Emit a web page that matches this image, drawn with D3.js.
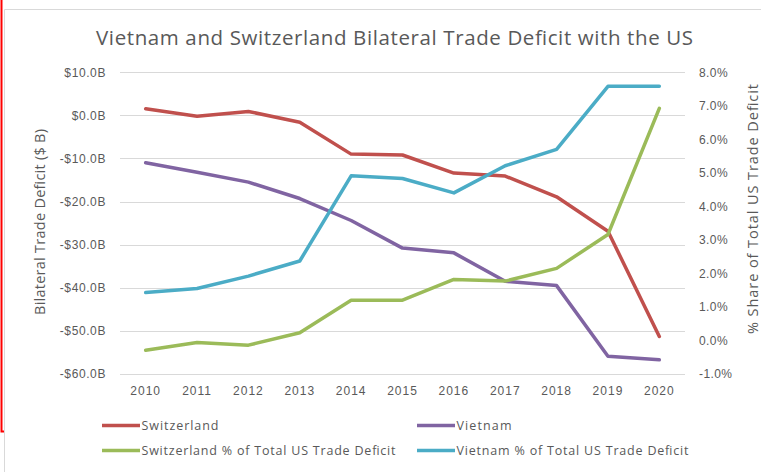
<!DOCTYPE html>
<html>
<head>
<meta charset="utf-8">
<script src="https://cdn.jsdelivr.net/npm/d3@7/dist/d3.min.js"></script>
<style>
  html, body { margin: 0; padding: 0; background: #ffffff; }
  svg { display: block; font-family: "Open Sans", "Liberation Sans", sans-serif; }
</style>
</head>
<body>
<svg id="chart" width="761" height="472"></svg>
<script>
// Years on the category axis
const years = ["2010","2011","2012","2013","2014","2015","2016","2017","2018","2019","2020"];

// Bilateral trade balance with the US, billions of dollars (left axis)
const switzerland = [1.5, -0.2, 0.9, -1.6, -9.0, -9.2, -13.4, -14.1, -18.9, -26.9, -51.3];
const vietnam = [-11.0, -13.2, -15.5, -19.3, -24.4, -30.8, -31.9, -38.5, -39.5, -55.9, -56.7];

// Share of the total US trade deficit, percent (right axis)
const switzerlandPct = [-0.29, -0.06, -0.14, 0.23, 1.20, 1.20, 1.82, 1.77, 2.15, 3.16, 6.92];
const vietnamPct = [1.43, 1.55, 1.92, 2.37, 4.91, 4.83, 4.40, 5.21, 5.70, 7.58, 7.58];

// Axis ticks
const leftTicks = [10, 0, -10, -20, -30, -40, -50, -60];
const rightTicks = [8, 7, 6, 5, 4, 3, 2, 1, 0, -1];

const seriesList = [
  { name: "Switzerland", values: switzerland, axis: "left", color: "#c0504d" },
  { name: "Vietnam", values: vietnam, axis: "left", color: "#8064a2" },
  { name: "Switzerland % of Total US Trade Deficit", values: switzerlandPct, axis: "right", color: "#9bbb59" },
  { name: "Vietnam % of Total US Trade Deficit", values: vietnamPct, axis: "right", color: "#4bacc6" }
];

const svg = d3.select("#chart");
const textColor = "#595959";
const plot = { left: 120, right: 685, top: 72.2, bottom: 374 };

// Outer frame
svg.append("path").attr("d", "M4.5,472 V9.5 H761")
  .attr("fill", "none").attr("stroke", "#d9d9d9").attr("stroke-width", 1);
svg.append("path").attr("d", "M1.5,0 V431.5 H4")
  .attr("fill", "none").attr("stroke", "#ff0000").attr("stroke-width", 2);

const x = d3.scaleBand().domain(years).range([plot.left, plot.right]);
const xc = d => x(d) + x.bandwidth() / 2;
const yL = d3.scaleLinear().domain([-60, 10]).range([plot.bottom, plot.top]);
const yR = d3.scaleLinear().domain([-1, 8]).range([plot.bottom, plot.top]);

// Horizontal gridlines on the left-axis ticks
svg.append("g").selectAll("line").data(leftTicks).join("line")
  .attr("x1", plot.left).attr("x2", plot.right)
  .attr("y1", d => Math.round(yL(d)) + 0.5).attr("y2", d => Math.round(yL(d)) + 0.5)
  .attr("stroke", "#d9d9d9").attr("stroke-width", 1);

// Left axis
const fmtB = d => (d < 0 ? "-$" : "$") + Math.abs(d).toFixed(1) + "B";
const gL = svg.append("g").attr("transform", `translate(${plot.left - 14},0)`)
  .call(d3.axisLeft(yL).tickValues(leftTicks).tickFormat(fmtB).tickSize(0).tickPadding(0));
gL.select(".domain").remove();
gL.selectAll("text").attr("fill", textColor).attr("font-size", 12).attr("letter-spacing", 0.6);

// Right axis
const fmtP = d => d.toFixed(1) + "%";
const gR = svg.append("g").attr("transform", `translate(${plot.right + 14},0)`)
  .call(d3.axisRight(yR).tickValues(rightTicks).tickFormat(fmtP).tickSize(0).tickPadding(0));
gR.select(".domain").remove();
gR.selectAll("text").attr("fill", textColor).attr("font-size", 12).attr("letter-spacing", 0.4);

// Bottom axis
const gB = svg.append("g").attr("transform", `translate(0,${plot.bottom + 12})`)
  .call(d3.axisBottom(x).tickSize(0).tickPadding(0));
gB.select(".domain").remove();
gB.selectAll("text").attr("fill", textColor).attr("font-size", 12).attr("letter-spacing", 1);

// Series lines
const lineFor = s => d3.line()
  .x((d, i) => xc(years[i]))
  .y(d => (s.axis === "left" ? yL(d) : yR(d)));
svg.append("g").selectAll("path").data(seriesList).join("path")
  .attr("d", s => lineFor(s)(s.values))
  .attr("fill", "none")
  .attr("stroke", s => s.color)
  .attr("stroke-width", 3.5)
  .attr("stroke-linejoin", "round")
  .attr("stroke-linecap", "round");

// Title
svg.append("text").attr("x", 96).attr("y", 44.5)
  .attr("font-size", 20.5).attr("fill", textColor)
  .attr("textLength", 597).attr("lengthAdjust", "spacing")
  .text("Vietnam and Switzerland Bilateral Trade Deficit with the US");

// Axis titles
svg.append("text")
  .attr("transform", "translate(45,222) rotate(-90)")
  .attr("text-anchor", "middle").attr("font-size", 14.5).attr("fill", textColor)
  .attr("textLength", 186).attr("lengthAdjust", "spacing")
  .text("Bilateral Trade Deficit ($ B)");
svg.append("text")
  .attr("transform", "translate(758,209) rotate(-90)")
  .attr("text-anchor", "middle").attr("font-size", 14.5).attr("fill", textColor)
  .attr("textLength", 250).attr("lengthAdjust", "spacing")
  .text("% Share of Total US Trade Deficit");

// Legend
const legendPos = [
  { x: 102, y: 425.5, w: 77 },
  { x: 417, y: 425.5, w: 55 },
  { x: 102, y: 450.5, w: 254 },
  { x: 417, y: 450.5, w: 232 }
];
const leg = svg.append("g").selectAll("g").data(seriesList).join("g")
  .attr("transform", (s, i) => `translate(${legendPos[i].x},${legendPos[i].y})`);
leg.append("line").attr("x1", 0).attr("x2", 38).attr("y1", 0).attr("y2", 0)
  .attr("stroke", s => s.color).attr("stroke-width", 3.5);
leg.append("text").attr("x", 39.5).attr("y", 4.5)
  .attr("font-size", 12.5).attr("fill", textColor)
  .attr("textLength", (s, i) => legendPos[i].w).attr("lengthAdjust", "spacing")
  .text(s => s.name);
</script>
</body>
</html>
